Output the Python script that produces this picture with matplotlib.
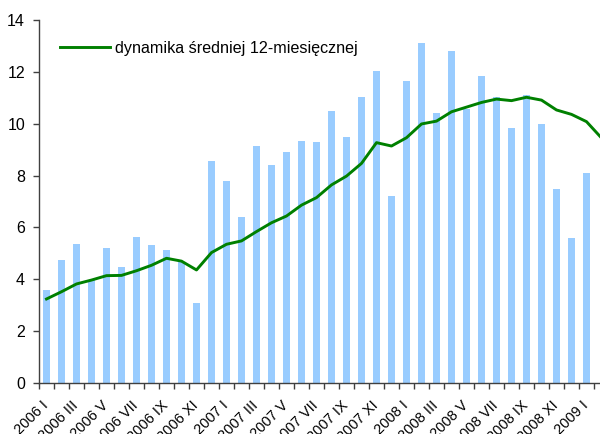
import matplotlib
matplotlib.use("Agg")
import matplotlib.pyplot as plt
from matplotlib.transforms import ScaledTranslation
import numpy as np

months = ["I", "II", "III", "IV", "V", "VI", "VII", "VIII", "IX", "X", "XI", "XII"]
categories = [f"{y} {m}" for y in (2006, 2007, 2008) for m in months] + ["2009 I", "2009 II"]

bar_values = [3.59, 4.74, 5.36, 3.97, 5.21, 4.47, 5.64, 5.32, 5.13, 4.68, 3.09, 8.56,
              7.79, 6.40, 9.14, 8.41, 8.91, 9.33, 9.29, 10.50, 9.49, 11.04, 12.03, 7.22,
              11.65, 13.11, 10.41, 12.80, 10.56, 11.84, 11.03, 9.83, 11.11, 9.99, 7.48, 5.59,
              8.10]

line_values = [3.24, 3.52, 3.82, 3.97, 4.14, 4.15, 4.33, 4.54, 4.81, 4.70, 4.36, 5.03,
               5.35, 5.48, 5.84, 6.18, 6.44, 6.86, 7.15, 7.64, 7.98, 8.47, 9.27, 9.14,
               9.46, 9.99, 10.10, 10.46, 10.64, 10.82, 10.95, 10.89, 11.02, 10.91, 10.53, 10.36,
               10.08, 9.45]

line_label = "dynamika średniej 12-miesięcznej"

plt.rcParams['font.family'] = ['Liberation Sans', 'DejaVu Sans']

fig = plt.figure(figsize=(6.0, 4.34), dpi=100)
W, H = 600, 434
left, right, top, bottom = 39, 609, 20, 383
ax = fig.add_axes([left / W, 1 - bottom / H, (right - left) / W, (bottom - top) / H])

xb = np.arange(len(bar_values))
xl = np.arange(len(line_values))
ax.bar(xb, bar_values, width=0.47, color="#99CCFF", zorder=2)
ax.plot(xl, line_values, color="#008000", lw=2.1, zorder=3, label=line_label)

ax.set_xlim(-0.5, len(categories) - 0.5)
ax.set_ylim(0, 14)
ax.set_yticks(np.arange(0, 15, 2))

for s in ("top", "right"):
    ax.spines[s].set_visible(False)
for s in ("left", "bottom"):
    ax.spines[s].set_color("#404040")
    ax.spines[s].set_linewidth(1.0)

ax.tick_params(axis="y", direction="out", length=4, width=1, color="#404040",
               labelsize=11.5, pad=6)

ax.set_xticks(np.arange(0, len(categories), 2))
ax.set_xticklabels(categories[::2])
ax.set_xticks(np.arange(-0.5, len(categories), 1), minor=True)
ax.tick_params(axis="x", which="major", length=0, labelsize=10.5, pad=11)
ax.tick_params(axis="x", which="minor", direction="out", length=4, width=1, color="#404040")
offset = ScaledTranslation(-4 / 72, 0, fig.dpi_scale_trans)
for lbl in ax.get_xticklabels():
    lbl.set_rotation(45)
    lbl.set_ha("right")
    lbl.set_va("top")
    lbl.set_rotation_mode("anchor")
    lbl.set_transform(lbl.get_transform() + offset)

leg = fig.legend(loc="center left", bbox_to_anchor=(60 / W, 1 - 48 / H),
                 frameon=False, fontsize=11.6, borderpad=0, borderaxespad=0,
                 handlelength=3.1, handletextpad=0.3)

fig.savefig("out.png", dpi=100)
